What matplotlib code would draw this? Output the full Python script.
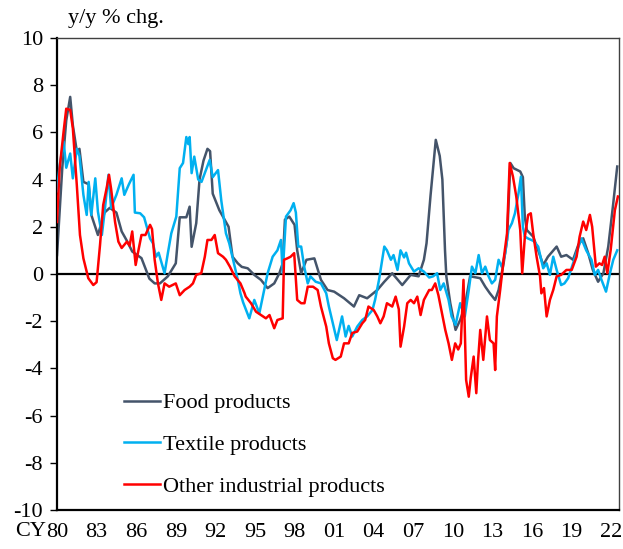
import matplotlib
matplotlib.use('Agg')
import matplotlib.pyplot as plt

plt.rcParams['font.family'] = ['Liberation Serif', 'DejaVu Serif']
plt.rcParams['axes.unicode_minus'] = False

# 1. data (decimal years)
food_x = [1980.0, 1980.4, 1980.7, 1981.0, 1981.2, 1981.5, 1981.7, 1982.0, 1982.4, 1982.6,
          1983.1, 1983.6, 1984.0, 1984.5, 1984.9, 1985.3, 1985.7, 1986.4, 1987.0, 1987.4,
          1987.8, 1988.4, 1989.0, 1989.3, 1989.8, 1990.05, 1990.2, 1990.55, 1990.8, 1991.1,
          1991.4, 1991.6, 1991.8, 1992.3, 1993.0, 1993.3, 1993.7, 1994.0, 1994.45, 1994.95,
          1995.45, 1995.96, 1996.46, 1996.85, 1997.1, 1997.27, 1997.6, 1998.0, 1998.2, 1998.5,
          1998.9, 1999.5, 2000.0, 2000.5, 2001.0, 2001.75, 2002.5, 2002.9, 2003.5, 2004.27,
          2004.8, 2005.4, 2006.16, 2006.8, 2007.4, 2007.8, 2008.0, 2008.3, 2008.7, 2009.0,
          2009.2, 2009.4, 2009.5, 2009.8, 2010.2, 2010.55, 2010.9, 2011.3, 2012.07, 2012.45,
          2012.8, 2013.2, 2013.46, 2013.84, 2014.1, 2014.35, 2014.6, 2015.1, 2015.3, 2015.45,
          2015.6, 2016.08, 2016.46, 2016.84, 2017.2, 2017.86, 2018.2, 2018.6, 2019.1, 2019.5,
          2019.87, 2020.25, 2020.6, 2021.0, 2021.4, 2021.77, 2022.15, 2022.45]
food_y = [0.8, 4.5, 6.5, 7.5, 6.3, 5.2, 5.3, 3.9, 3.8, 2.5,
          1.65, 2.6, 2.8, 2.6, 1.8, 1.4, 0.95, 0.67, -0.2, -0.4,
          -0.4, -0.1, 0.45, 2.4, 2.4, 2.85, 1.15, 2.15, 4.0, 4.8,
          5.3, 5.2, 3.4, 2.7, 2.0, 0.73, 0.45, 0.3, 0.24, -0.04,
          -0.25, -0.6, -0.4, 0.03, 0.45, 2.3, 2.43, 2.08, 1.0, 0.03,
          0.6, 0.66, -0.25, -0.68, -0.75, -1.03, -1.38, -0.9, -1.03, -0.68,
          -0.33, 0.03, -0.47, -0.04, -0.1, 0.6, 1.3, 3.3, 5.68, 5.0,
          4.0, 1.0, -0.1, -1.24, -2.37, -1.95, -1.38, -0.1, -0.18, -0.54,
          -0.82, -1.1, -0.68, 0.45, 1.44, 4.7, 4.48, 4.34, 4.1, 2.4,
          1.86, 1.58, 1.0, 0.38, 0.73, 1.16, 0.73, 0.8, 0.6, 1.23,
          1.51, 0.88, 0.17, -0.33, 0.03, 1.16, 3.0, 4.55]

textile_x = [1980.0, 1980.2, 1980.5, 1980.7, 1981.0, 1981.2, 1981.5, 1981.7, 1982.0, 1982.25,
             1982.4, 1982.6, 1982.9, 1983.1, 1983.4, 1983.6, 1983.9, 1984.1, 1984.5, 1984.9,
             1985.1, 1985.45, 1985.8, 1985.9, 1986.3, 1986.6, 1987.05, 1987.27, 1987.5, 1987.7,
             1988.15, 1988.4, 1988.66, 1989.04, 1989.3, 1989.55, 1989.8, 1989.95, 1990.05, 1990.2,
             1990.4, 1990.7, 1990.95, 1991.2, 1991.57, 1991.8, 1992.2, 1992.45, 1992.8, 1993.05,
             1993.46, 1993.7, 1993.9, 1994.1, 1994.57, 1994.95, 1995.33, 1995.7, 1995.96, 1996.34,
             1996.7, 1996.97, 1997.1, 1997.35, 1997.7, 1997.93, 1998.1, 1998.28, 1998.5, 1998.73,
             1999.0, 1999.2, 1999.6, 2000.0, 2000.4, 2000.6, 2000.9, 2001.2, 2001.6, 2001.87,
             2002.1, 2002.37, 2002.75, 2003.13, 2003.5, 2003.9, 2004.1, 2004.4, 2004.8, 2005.0,
             2005.3, 2005.5, 2005.8, 2006.03, 2006.3, 2006.45, 2006.67, 2007.05, 2007.4, 2007.8,
             2008.2, 2008.5, 2008.8, 2009.04, 2009.3, 2009.67, 2009.9, 2010.2, 2010.55, 2010.9,
             2011.2, 2011.44, 2011.7, 2011.95, 2012.2, 2012.45, 2012.7, 2012.95, 2013.2, 2013.46,
             2013.7, 2013.96, 2014.2, 2014.47, 2014.7, 2014.97, 2015.15, 2015.3, 2015.45, 2015.7,
             2016.1, 2016.46, 2016.84, 2017.1, 2017.35, 2017.6, 2017.86, 2018.2, 2018.45, 2018.73,
             2019.1, 2019.35, 2019.73, 2020.1, 2020.5, 2020.75, 2021.0, 2021.26, 2021.6, 2021.9,
             2022.15, 2022.45]
textile_y = [3.5, 4.6, 5.6, 4.5, 5.1, 4.05, 5.3, 5.0, 3.35, 2.5,
             3.9, 2.5, 4.05, 2.64, 1.65, 2.6, 4.2, 2.8, 3.35, 4.05,
             3.35, 3.8, 4.2, 2.6, 2.57, 2.4, 1.5, 1.3, 0.73, 0.9,
             0.03, 0.88, 1.72, 2.43, 4.48, 4.7, 5.8, 5.5, 5.8, 4.27,
             4.97, 4.0, 3.9, 4.27, 4.83, 4.1, 4.4, 3.1, 1.72, 1.3,
             0.31, -0.25, -0.82, -1.2, -1.88, -1.1, -1.67, -0.68, 0.03, 0.73,
             1.0, 1.44, 0.03, 2.43, 2.7, 3.0, 2.6, 1.16, 1.16, 0.31,
             -0.4, -0.1, -0.33, -0.4, -0.82, -1.38, -2.09, -2.8, -1.8, -2.65,
             -2.2, -2.65, -2.23, -1.95, -1.8, -1.53, -1.1, -0.25, 1.16, 1.0,
             0.6, 0.8, 0.17, 1.0, 0.7, 0.9, 0.45, 0.1, 0.24, 0.1,
             -0.15, -0.1, 0.03, -0.68, -0.4, -1.1, -1.8, -2.16, -1.24, -1.8,
             -0.68, 0.31, 0.03, 0.8, 0.03, 0.31, -0.1, -0.4, -0.25, 0.6,
             0.3, 0.88, 1.86, 2.15, 2.57, 3.42, 4.12, 2.0, 1.58, 1.5,
             1.4, 1.16, 0.24, 0.45, -0.04, 0.73, 0.17, -0.47, -0.4, -0.18,
             0.45, 0.88, 1.51, 1.0, 0.6, -0.04, 0.17, -0.25, -0.75, 0.03,
             0.6, 1.0]

other_x = [1980.0, 1980.2, 1980.5, 1980.7, 1981.0, 1981.2, 1981.5, 1981.74, 1982.0, 1982.25,
           1982.37, 1982.75, 1983.0, 1983.26, 1983.5, 1983.76, 1983.94, 1984.1, 1984.4, 1984.65,
           1984.9, 1985.3, 1985.5, 1985.7, 1985.96, 1986.1, 1986.4, 1986.7, 1987.05, 1987.2,
           1987.4, 1987.65, 1987.9, 1988.15, 1988.5, 1989.0, 1989.3, 1989.67, 1990.05, 1990.3,
           1990.55, 1990.93, 1991.2, 1991.4, 1991.7, 1991.95, 1992.2, 1992.58, 1992.8, 1993.1,
           1993.46, 1993.9, 1994.2, 1994.3, 1994.7, 1995.08, 1995.45, 1995.83, 1996.1, 1996.46,
           1996.7, 1997.1, 1997.2, 1997.45, 1997.7, 1997.97, 1998.2, 1998.5, 1998.75, 1999.0,
           1999.4, 1999.75, 2000.0, 2000.4, 2000.6, 2000.9, 2001.1, 2001.5, 2001.75, 2002.1,
           2002.37, 2002.75, 2003.13, 2003.35, 2003.6, 2004.0, 2004.27, 2004.5, 2004.75, 2005.0,
           2005.4, 2005.66, 2005.9, 2006.03, 2006.3, 2006.54, 2006.8, 2007.05, 2007.3, 2007.55,
           2007.8, 2008.2, 2008.4, 2008.66, 2008.9, 2009.17, 2009.42, 2009.67, 2009.92, 2010.17,
           2010.4, 2010.6, 2010.8, 2011.0, 2011.2, 2011.35, 2011.57, 2011.77, 2011.9, 2012.07,
           2012.3, 2012.58, 2012.8, 2013.08, 2013.2, 2013.33, 2013.58, 2013.84, 2014.1, 2014.3,
           2014.55, 2014.8, 2015.1, 2015.25, 2015.45, 2015.7, 2015.9, 2016.08, 2016.34, 2016.6,
           2016.7, 2016.9, 2017.1, 2017.35, 2017.6, 2017.86, 2018.2, 2018.6, 2019.0, 2019.37,
           2019.6, 2019.87, 2020.1, 2020.38, 2020.55, 2020.83, 2021.1, 2021.3, 2021.5, 2021.7,
           2021.95, 2022.27, 2022.5]
other_y = [2.2, 4.48, 6.03, 7.0, 6.95, 6.17, 3.77, 1.65, 0.66, 0.1,
           -0.18, -0.47, -0.35, 1.23, 2.92, 3.63, 4.2, 3.6, 2.2, 1.37,
           1.1, 1.37, 1.2, 1.8, 0.38, 0.8, 1.65, 1.65, 2.08, 1.9,
           0.6, -0.4, -1.1, -0.4, -0.54, -0.4, -0.9, -0.68, -0.54, -0.4,
           -0.04, 0.03, 0.73, 1.44, 1.44, 1.65, 0.88, 0.73, 0.6, 0.31,
           -0.1, -0.4, -0.8, -0.96, -1.24, -1.6, -1.74, -1.88, -1.74, -2.3,
           -1.95, -1.88, 0.6, 0.66, 0.73, 0.88, -1.1, -1.24, -1.24, -0.54,
           -0.54, -0.68, -1.38, -2.23, -2.94, -3.57, -3.64, -3.5, -2.94, -2.94,
           -2.5, -2.44, -2.09, -1.95, -1.38, -1.53, -1.8, -2.09, -1.8, -1.24,
           -1.38, -0.96, -1.5, -3.08, -2.23, -1.24, -1.1, -1.24, -0.96, -1.74,
           -1.1, -0.68, -0.68, -0.4, -0.9, -1.67, -2.37, -2.94, -3.64, -2.94,
           -3.2, -2.94, -0.25, -4.49, -5.2, -4.4, -3.5, -5.05, -3.7, -2.37,
           -3.64, -1.8, -2.8, -2.94, -4.07, -1.8, -0.68, 0.6, 1.72, 4.7,
           4.12, 3.28, 1.86, 0.03, 1.58, 2.5, 2.57, 1.72, 0.73, -0.1,
           -0.82, -0.6, -1.8, -1.1, -0.68, -0.1, -0.04, 0.17, 0.17, 0.73,
           1.58, 2.22, 1.86, 2.5, 2.0, 0.31, 0.45, 0.38, 0.73, 0.03,
           1.0, 2.7, 3.28]

tick_years = list(range(1980, 2023, 3))
tick_labels = ['80', '83', '86', '89', '92', '95', '98', '01', '04', '07',
               '10', '13', '16', '19', '22']

# 2. plot
fig = plt.figure(figsize=(6.23, 5.49), dpi=100)
ax = fig.add_axes([0.0915, 0.071, 0.902, 0.860])

ax.axhline(0, color='black', lw=1.6, zorder=1)
ax.plot(food_x, food_y, color='#44546A', lw=1.8, label='Food products', zorder=2)
ax.plot(textile_x, textile_y, color='#00B0F0', lw=1.8, label='Textile products', zorder=3)
ax.plot(other_x, other_y, color='#FF0000', lw=1.8, label='Other industrial products', zorder=4)

ax.set_xlim(1980, 2022.58)
ax.set_ylim(-10, 10)
ax.set_yticks(range(-10, 11, 2))
ax.set_xticks(tick_years)
ax.set_xticklabels(tick_labels)
ax.tick_params(axis='x', length=0, pad=9, labelsize=16)
ax.tick_params(axis='y', length=5, width=1, direction='out', pad=5, labelsize=16)

for s in ['left', 'bottom']:
    ax.spines[s].set_linewidth(1.6)
    ax.spines[s].set_color('black')
for s in ['top', 'right']:
    ax.spines[s].set_linewidth(1.0)
    ax.spines[s].set_color('#404040')

fig.text(0.074, 0.031, 'CY', ha='right', va='center', fontsize=16)
fig.text(0.109, 0.967, 'y/y % chg.', ha='left', va='center', fontsize=16)

ax.legend(loc='lower left', bbox_to_anchor=(0.083, -0.014), frameon=False, fontsize=16,
          handlelength=1.65, handletextpad=0.12, labelspacing=0.95)

plt.savefig('out.png', dpi=100)
